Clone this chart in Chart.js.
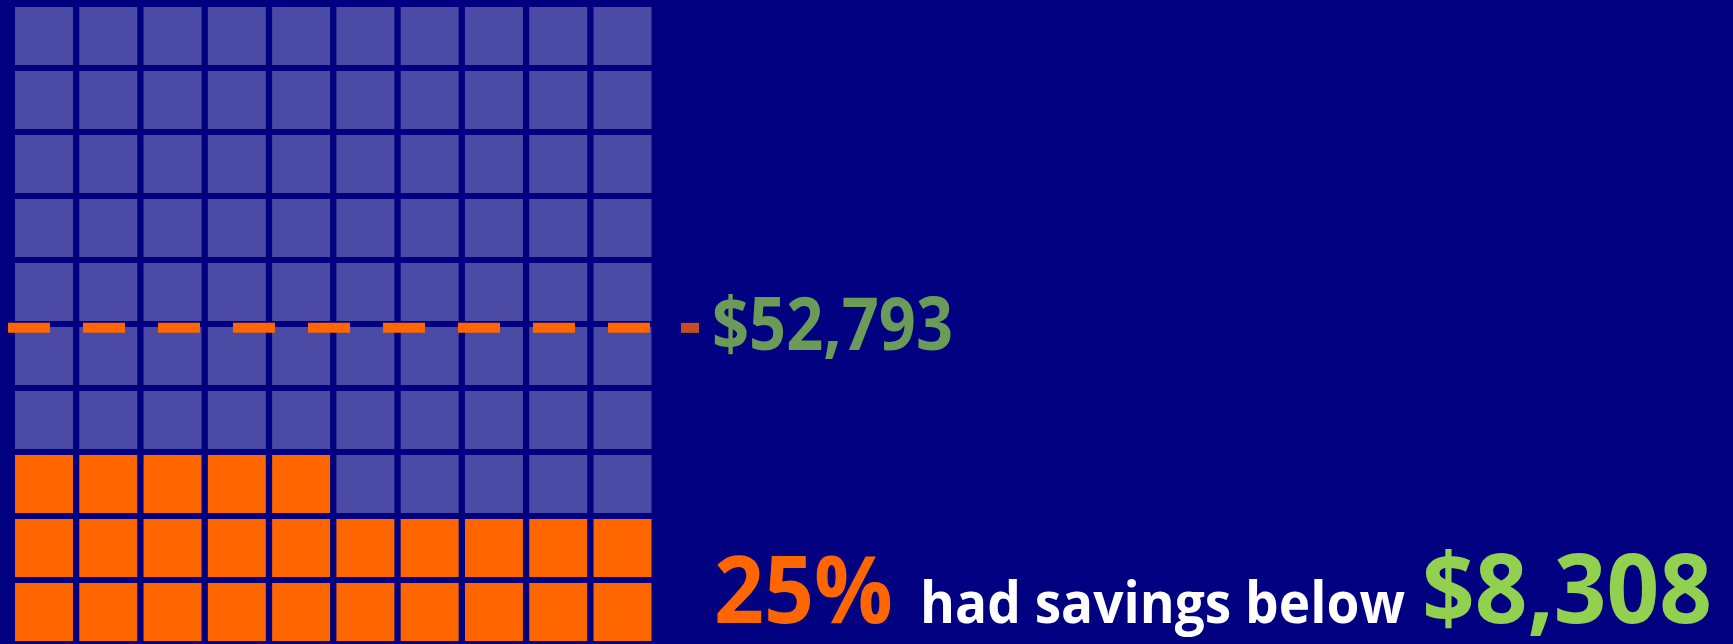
<!DOCTYPE html>
<html>
<head>
<meta charset="utf-8">
<script src="https://cdn.jsdelivr.net/npm/chart.js@4"></script>
<style>
  html, body { margin: 0; padding: 0; background: #000080; overflow: hidden; }
  canvas { display: block; }
</style>
</head>
<body>
<canvas id="waffle" width="1733" height="644"></canvas>
<script>
// ---- Data ----
const gridCols = 10;
const gridRows = 10;
const belowPct = 25;            // share of households below the low mark
const lowAmount = '$8,308';
const midAmount = '$52,793';
const midPct = 49.4;            // level of the dashed marker (percent of grid height)
const lineX = [-0.56, 9.91, 10.19]; // dashed marker from left edge, ends in short tick past grid
const captionWords = ['25%', 'had savings below', lowAmount];

// ---- Build waffle cells (bottom row first, left to right) ----
const belowCells = [];
const aboveCells = [];
for (let r = 0; r < gridRows; r++) {
  for (let c = 0; c < gridCols; c++) {
    const cell = { x: c, y: r * 10 + 5 };
    if (r * gridCols + c < belowPct) belowCells.push(cell);
    else aboveCells.push(cell);
  }
}

// ---- Text drawn over the chart ----
const textPlugin = {
  id: 'waffleText',
  afterDatasetsDraw(chart) {
    const ctx = chart.ctx;
    const yLine = chart.scales.y.getPixelForValue(midPct);
    ctx.save();
    ctx.textBaseline = 'alphabetic';
    ctx.textAlign = 'left';

    ctx.fillStyle = '#6B9B58';
    ctx.font = 'bold 73px "Open Sans"';
    ctx.fillText(midAmount, 712, yLine + 22, 241);

    const base = 623;
    ctx.fillStyle = '#FF6600';
    ctx.font = 'bold 93px "Open Sans"';
    ctx.fillText(captionWords[0], 714, base, 179);

    ctx.fillStyle = '#FFFFFF';
    ctx.font = 'bold 57px "Open Sans"';
    ctx.fillText(captionWords[1], 920, base, 485);

    ctx.fillStyle = '#92D050';
    ctx.font = 'bold 97px "Open Sans"';
    ctx.fillText(captionWords[2], 1422, base, 290);
    ctx.restore();
  }
};

// ---- Chart ----
new Chart(document.getElementById('waffle'), {
  type: 'scatter',
  data: {
    datasets: [
      {
        label: 'Median',
        data: lineX.map(x => ({ x: x, y: midPct })),
        showLine: true,
        borderWidth: 10,
        borderDash: [42, 33],
        borderCapStyle: 'butt',
        borderColor: '#FF6600',
        segment: {
          borderColor: c => c.p0DataIndex === 1 ? '#C24F22' : '#FF6600'
        },
        pointRadius: 0,
        order: 0
      },
      {
        label: 'Below',
        data: belowCells,
        pointStyle: 'rect',
        pointRadius: 41,
        pointBorderWidth: 0,
        backgroundColor: '#FF6600',
        order: 1
      },
      {
        label: 'Above',
        data: aboveCells,
        pointStyle: 'rect',
        pointRadius: 41,
        pointBorderWidth: 0,
        backgroundColor: '#4B4BA5',
        order: 2
      }
    ]
  },
  options: {
    responsive: false,
    animation: false,
    events: [],
    clip: false,
    layout: { padding: 0, autoPadding: false },
    plugins: {
      legend: { display: false },
      tooltip: { enabled: false }
    },
    scales: {
      x: { type: 'linear', min: -0.6845, max: 26.276, display: false },
      y: { type: 'linear', min: 0, max: 100.625, display: false }
    }
  },
  plugins: [textPlugin]
});
</script>
</body>
</html>
